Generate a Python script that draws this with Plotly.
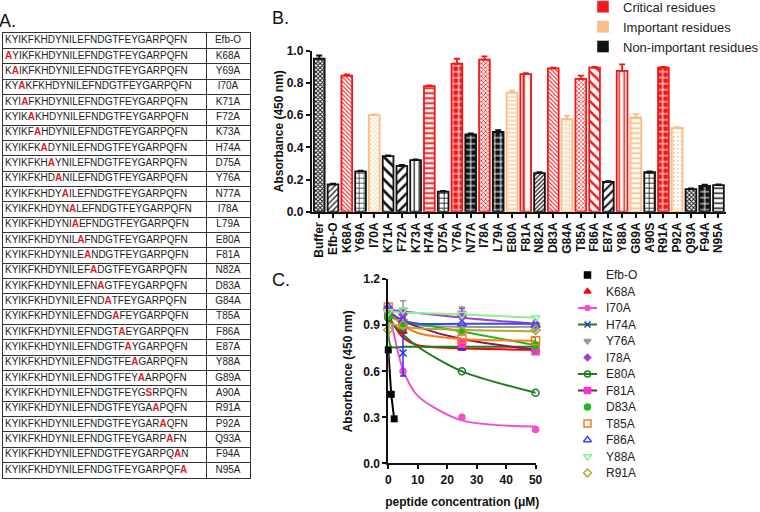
import plotly.graph_objects as go

FONT = "Arial, Liberation Sans, sans-serif"

# ---------------- Panel A data ----------------
base_sequence = "KYIKFKHDYNILEFNDGTFEYGARPQFN"
table_labels = ["Efb-O", "K68A", "Y69A", "I70A", "K71A", "F72A", "K73A", "H74A", "D75A",
                "Y76A", "N77A", "I78A", "L79A", "E80A", "F81A", "N82A", "D83A", "G84A",
                "T85A", "F86A", "E87A", "Y88A", "G89A", "A90A", "R91A", "P92A", "Q93A",
                "F94A", "N95A"]
first_residue_number = 68

# ---------------- Panel B data ----------------
bar_categories = ["Buffer", "Efb-O", "K68A", "Y69A", "I70A", "K71A", "F72A", "K73A", "H74A",
                  "D75A", "Y76A", "N77A", "I78A", "L79A", "E80A", "F81A", "N82A", "D83A",
                  "G84A", "T85A", "F86A", "E87A", "Y88A", "G89A", "A90S", "R91A", "P92A",
                  "Q93A", "F94A", "N95A"]
bar_values = [0.95, 0.17, 0.845, 0.25, 0.60, 0.345, 0.285, 0.32, 0.78, 0.125,
              0.92, 0.48, 0.945, 0.495, 0.74, 0.855, 0.24, 0.89, 0.575, 0.825,
              0.895, 0.185, 0.875, 0.585, 0.245, 0.895, 0.52, 0.14, 0.16, 0.165]
bar_errors = [0.02, 0.005, 0.008, 0.005, 0.005, 0.005, 0.005, 0.005, 0.005, 0.005,
              0.03, 0.006, 0.02, 0.012, 0.012, 0.005, 0.005, 0.005, 0.02, 0.02,
              0.005, 0.005, 0.04, 0.022, 0.005, 0.005, 0.005, 0.005, 0.008, 0.005]
bar_groups = ["non", "non", "critical", "non", "important", "non", "non", "non", "critical",
              "non", "critical", "non", "critical", "non", "important", "critical", "non",
              "critical", "important", "critical", "critical", "non", "critical", "important",
              "non", "critical", "important", "non", "non", "non"]
group_names = {"critical": "Critical residues", "important": "Important residues",
               "non": "Non-important residues"}

# ---------------- Panel C data ----------------
conc = [0, 5, 25, 50]
efb_conc = [0, 1, 2]
efb_values = [0.74, 0.45, 0.29]
c_series = ["K68A", "I70A", "H74A", "Y76A", "I78A", "E80A", "F81A", "D83A", "T85A",
            "F86A", "Y88A", "R91A"]
c_values = {
    "K68A": [0.97, 0.86, 0.75, 0.74],
    "I70A": [1.00, 0.60, 0.30, 0.22],
    "H74A": [0.97, 0.72, 0.76, 0.76],
    "Y76A": [0.99, 1.00, 0.98, 0.88],
    "I78A": [1.00, 0.97, 0.96, 0.91],
    "E80A": [0.95, 0.88, 0.60, 0.46],
    "F81A": [0.98, 0.90, 0.78, 0.73],
    "D83A": [0.96, 0.90, 0.86, 0.77],
    "T85A": [1.02, 0.91, 0.81, 0.80],
    "F86A": [1.02, 0.93, 0.91, 0.90],
    "Y88A": [0.99, 1.00, 0.97, 0.95],
    "R91A": [0.87, 0.90, 0.86, 0.87],
}
c_errors = {
    "H74A": [0.01, 0.15, 0.02, 0.02],
    "Y76A": [0.01, 0.06, 0.04, 0.02],
    "I78A": [0.01, 0.02, 0.05, 0.02],
    "D83A": [0.01, 0.02, 0.02, 0.05],
}
fit_conc = [0, 1, 5, 10, 25, 50]
c_fits = {
    "K68A": [0.97, 0.93, 0.82, 0.77, 0.75, 0.74],
    "I70A": [1.00, 0.92, 0.61, 0.44, 0.28, 0.24],
    "H74A": [0.95, 0.76, 0.76, 0.76, 0.76, 0.76],
    "Y76A": [0.98, 0.96, 0.92, 0.90, 0.89, 0.89],
    "I78A": [1.00, 1.00, 0.99, 0.98, 0.95, 0.91],
    "E80A": [0.94, 0.92, 0.84, 0.76, 0.60, 0.46],
    "F81A": [0.98, 0.97, 0.93, 0.89, 0.81, 0.74],
    "D83A": [0.96, 0.95, 0.93, 0.91, 0.86, 0.77],
    "T85A": [0.99, 0.97, 0.90, 0.85, 0.81, 0.80],
    "F86A": [1.01, 0.98, 0.93, 0.91, 0.91, 0.91],
    "Y88A": [0.99, 0.99, 0.98, 0.98, 0.97, 0.95],
    "R91A": [0.92, 0.91, 0.89, 0.88, 0.87, 0.86],
}

# ---------------- styles ----------------
group_colors = {"critical": "#f21818", "important": "#f9bd85", "non": "#111111"}
# pattern style per bar: (shape, size, solidity, inverted)
bar_pattern_style = {
    "Buffer": ("x", 3, 0.55, False), "Efb-O": ("/", 4, 0.3, False),
    "K68A": ("\\", 3, 0.35, False), "Y69A": ("+", 5, 0.25, False),
    "I70A": ("x", 3, 0.3, False), "K71A": ("\\", 8, 0.35, False),
    "F72A": ("/", 7, 0.35, False), "K73A": ("|", 5, 0.25, False),
    "H74A": ("-", 5, 0.4, False), "D75A": ("+", 5, 0.3, False),
    "Y76A": ("+", 6, 0.3, True), "N77A": ("+", 6, 0.3, True),
    "I78A": ("x", 3, 0.45, False), "L79A": ("+", 6, 0.3, True),
    "E80A": ("-", 4, 0.3, False), "F81A": ("|", 8, 0.3, False),
    "N82A": ("/", 3, 0.4, False), "D83A": ("\\", 3, 0.35, False),
    "G84A": ("+", 4, 0.3, False), "T85A": ("x", 3, 0.4, False),
    "F86A": ("\\", 7, 0.35, False), "E87A": ("/", 6, 0.35, False),
    "Y88A": ("|", 5, 0.3, False), "G89A": ("-", 5, 0.35, False),
    "A90S": ("+", 5, 0.3, False), "R91A": ("+", 6, 0.3, True),
    "P92A": (".", 4, 0.2, False), "Q93A": ("x", 3, 0.55, False),
    "F94A": ("+", 6, 0.3, True), "N95A": ("-", 5, 0.3, False),
}
c_style = {
    "Efb-O": dict(symbol="square", color="#000000", line="#000000", size=7),
    "K68A": dict(symbol="triangle-up", color="#ff0000", line="#ff0000", size=7),
    "I70A": dict(symbol="circle", color="#f050d0", line="#f050d0", size=6),
    "H74A": dict(symbol="x-thin", color="#2233ee", line="#1e7d1e", size=7),
    "Y76A": dict(symbol="triangle-down", color="#999999", line="#999999", size=7),
    "I78A": dict(symbol="diamond", color="#a040d0", line="#a040d0", size=6),
    "E80A": dict(symbol="circle-open", color="#1e7d1e", line="#1e7d1e", size=7),
    "F81A": dict(symbol="square", color="#ff33cc", line="#8b1a50", size=7),
    "D83A": dict(symbol="circle", color="#22b422", line="#22b422", size=7),
    "T85A": dict(symbol="square-open", color="#ff7a1a", line="#ff7a1a", size=8),
    "F86A": dict(symbol="triangle-up-open", color="#3348ff", line="#3348ff", size=8),
    "Y88A": dict(symbol="triangle-down-open", color="#8cf08c", line="#8cf08c", size=8),
    "R91A": dict(symbol="diamond-open", color="#b0a830", line="#b0a830", size=7),
}
legend_with_line = {"I70A", "H74A", "E80A", "F81A"}

fig = go.Figure()

# ---------------- Panel A : sequence table (text on a gridded axis) ----------------
def mutant_html(label):
    if label == table_labels[0]:
        return base_sequence
    n = int(label[1:-1])
    pos = n - first_residue_number
    new = "S" if base_sequence[pos] == "A" else "A"
    return (base_sequence[:pos] + '<span style="color:#e31a1c"><b>' + new + "</b></span>"
            + base_sequence[pos + 1:])

row_index = list(range(len(table_labels)))
fig.add_trace(go.Scatter(
    x=[2] * len(table_labels), y=row_index, mode="text",
    text=[mutant_html(l) for l in table_labels], textposition="middle right",
    textfont=dict(family=FONT, size=10, color="#222222"),
    xaxis="x4", yaxis="y4", showlegend=False, hoverinfo="skip", cliponaxis=False))
fig.add_trace(go.Scatter(
    x=[225] * len(table_labels), y=row_index, mode="text",
    text=table_labels, textposition="middle center",
    textfont=dict(family=FONT, size=10, color="#222222"),
    xaxis="x4", yaxis="y4", showlegend=False, hoverinfo="skip", cliponaxis=False))

# ---------------- Panel B : bars ----------------
for grp in ["critical", "important", "non"]:
    idx = [i for i, g in enumerate(bar_groups) if g == grp]
    col = group_colors[grp]
    cats = [bar_categories[i] for i in idx]
    st = [bar_pattern_style[c] for c in cats]
    fig.add_trace(go.Bar(
        x=cats, y=[bar_values[i] for i in idx], width=0.78,
        marker=dict(color=col, line=dict(color=col, width=1.8),
                    pattern=dict(shape=[s[0] for s in st], size=[s[1] for s in st],
                                 solidity=[s[2] for s in st],
                                 fgcolor=["white" if s[3] else col for s in st],
                                 bgcolor=[col if s[3] else "white" for s in st],
                                 fillmode="replace")),
        error_y=dict(type="data", symmetric=False, array=[bar_errors[i] for i in idx],
                     arrayminus=[0] * len(idx), color=col, thickness=1.8, width=3),
        showlegend=False, xaxis="x", yaxis="y", cliponaxis=False))

for grp in ["critical", "important", "non"]:
    fig.add_trace(go.Bar(x=[None], y=[None], name=group_names[grp],
                         marker=dict(color=group_colors[grp]), xaxis="x", yaxis="y",
                         legend="legend"))

# ---------------- Panel C : dose response ----------------
fig.add_trace(go.Scatter(x=efb_conc, y=efb_values, mode="lines+markers",
                         line=dict(color="#000000", width=2),
                         marker=dict(symbol="square", size=7, color="#000000"),
                         showlegend=False, xaxis="x2", yaxis="y2", cliponaxis=False))
for s in c_series:
    stl = c_style[s]
    fig.add_trace(go.Scatter(x=fit_conc, y=c_fits[s], mode="lines",
                             line=dict(color=stl["line"], width=2, shape="spline", smoothing=0.8),
                             showlegend=False, xaxis="x2", yaxis="y2", hoverinfo="skip"))
for s in c_series:
    stl = c_style[s]
    err = c_errors.get(s)
    fig.add_trace(go.Scatter(
        x=conc, y=c_values[s], mode="markers",
        marker=dict(symbol=stl["symbol"], size=stl["size"], color=stl["color"],
                    line=dict(color=stl["color"], width=1.5)),
        error_y=(dict(type="data", array=err, color=stl["color"], thickness=1.5, width=3)
                 if err else None),
        showlegend=False, xaxis="x2", yaxis="y2", cliponaxis=False))

# compact legend for panel C (category axis of series names)
legend_names = ["Efb-O"] + c_series
for s in legend_names:
    stl = c_style[s]
    if s in legend_with_line:
        fig.add_trace(go.Scatter(x=[-1, 1], y=[s, s], mode="lines",
                                 line=dict(color=stl["line"], width=2),
                                 showlegend=False, xaxis="x3", yaxis="y3", hoverinfo="skip",
                                 cliponaxis=False))
    fig.add_trace(go.Scatter(x=[0], y=[s], mode="markers",
                             marker=dict(symbol=stl["symbol"], size=stl["size"] - 1,
                                         color=stl["color"],
                                         line=dict(color=stl["color"], width=1.5)),
                             showlegend=False, xaxis="x3", yaxis="y3", cliponaxis=False))

axis_common = dict(showline=True, linecolor="#111111", linewidth=1.8, ticks="outside",
                   ticklen=4, tickwidth=1.5, tickcolor="#111111", showgrid=False,
                   zeroline=False, tickfont=dict(family=FONT, size=12, color="#111111",
                                                 weight="bold"))
table_axis = dict(showline=True, mirror=True, linecolor="#333333", linewidth=1,
                  showgrid=True, gridcolor="#333333", gridwidth=1, zeroline=False,
                  showticklabels=False, ticks="", fixedrange=True)

fig.update_layout(
    width=760, height=512, margin=dict(l=0, r=0, t=0, b=0, autoexpand=False),
    paper_bgcolor="white", plot_bgcolor="white", barmode="overlay",
    font=dict(family=FONT, color="#111111"),
    xaxis=dict(domain=[0.4101, 0.9553], range=[-0.55, 29.55], anchor="y",
               categoryorder="array", categoryarray=bar_categories, tickangle=-90,
               tickmode="linear", tick0=0, dtick=1,
               **axis_common),
    yaxis=dict(domain=[0.5865, 0.9010], range=[0, 1.0], dtick=0.2, tickformat=".1f",
               anchor="x",
               title=dict(text="Absorbance (450 nm)",
                          font=dict(family=FONT, size=12, weight="bold"), standoff=0),
               **axis_common),
    xaxis2=dict(domain=[0.5109, 0.7055], range=[0, 50.2], dtick=10, anchor="y2",
                title=dict(text="peptide concentration (\u03bcM)",
                           font=dict(family=FONT, size=12, weight="bold"), standoff=12),
                **axis_common),
    yaxis2=dict(domain=[0.0951, 0.4545], range=[0, 1.2], dtick=0.3, tickformat=".1f",
                anchor="x2",
                title=dict(text="Absorbance (450 nm)",
                           font=dict(family=FONT, size=12, weight="bold"), standoff=8),
                **axis_common),
    xaxis3=dict(domain=[578 / 760, 597 / 760], range=[-1, 1], visible=False,
                anchor="y3", fixedrange=True),
    yaxis3=dict(domain=[0.0601, 0.479], anchor="x3", side="right", type="category",
                categoryorder="array", categoryarray=legend_names[::-1],
                range=[-0.5, len(legend_names) - 0.5],
                showline=False, showgrid=False, zeroline=False, ticks="",
                ticklabelstandoff=8,
                tickfont=dict(family=FONT, size=12, color="#222222"), fixedrange=True),
    xaxis4=dict(domain=[3 / 760, 250 / 760], range=[0, 247], anchor="y4",
                tickmode="array", tickvals=[203], **table_axis),
    yaxis4=dict(domain=[(512 - 478) / 512, (512 - 33) / 512],
                range=[len(table_labels) - 0.5, -0.5], anchor="x4",
                tickmode="linear", tick0=0.5, dtick=1, **table_axis),
    legend=dict(x=583 / 760, y=1.016, xanchor="left", yanchor="top",
                font=dict(family=FONT, size=13, color="#222222"),
                bgcolor="rgba(0,0,0,0)", itemwidth=30),
    annotations=[
        dict(text="A.", x=0.0, y=1.0, xref="paper", yref="paper", xanchor="left",
             yanchor="top", showarrow=False, font=dict(family=FONT, size=18, color="#111111"),
             xshift=-3, yshift=-9),
        dict(text="B.", x=270 / 760, y=1.0, xref="paper", yref="paper", xanchor="left",
             yanchor="top", showarrow=False, font=dict(family=FONT, size=18, color="#111111"),
             yshift=-6),
        dict(text="C.", x=270 / 760, y=1 - 268 / 512, xref="paper", yref="paper",
             xanchor="left", yanchor="top", showarrow=False,
             font=dict(family=FONT, size=18, color="#111111")),
    ],
)

fig.write_html("out.html", config={"displayModeBar": False},
               post_script="document.body.style.margin='0px';"
                           "document.body.style.overflow='hidden';")
